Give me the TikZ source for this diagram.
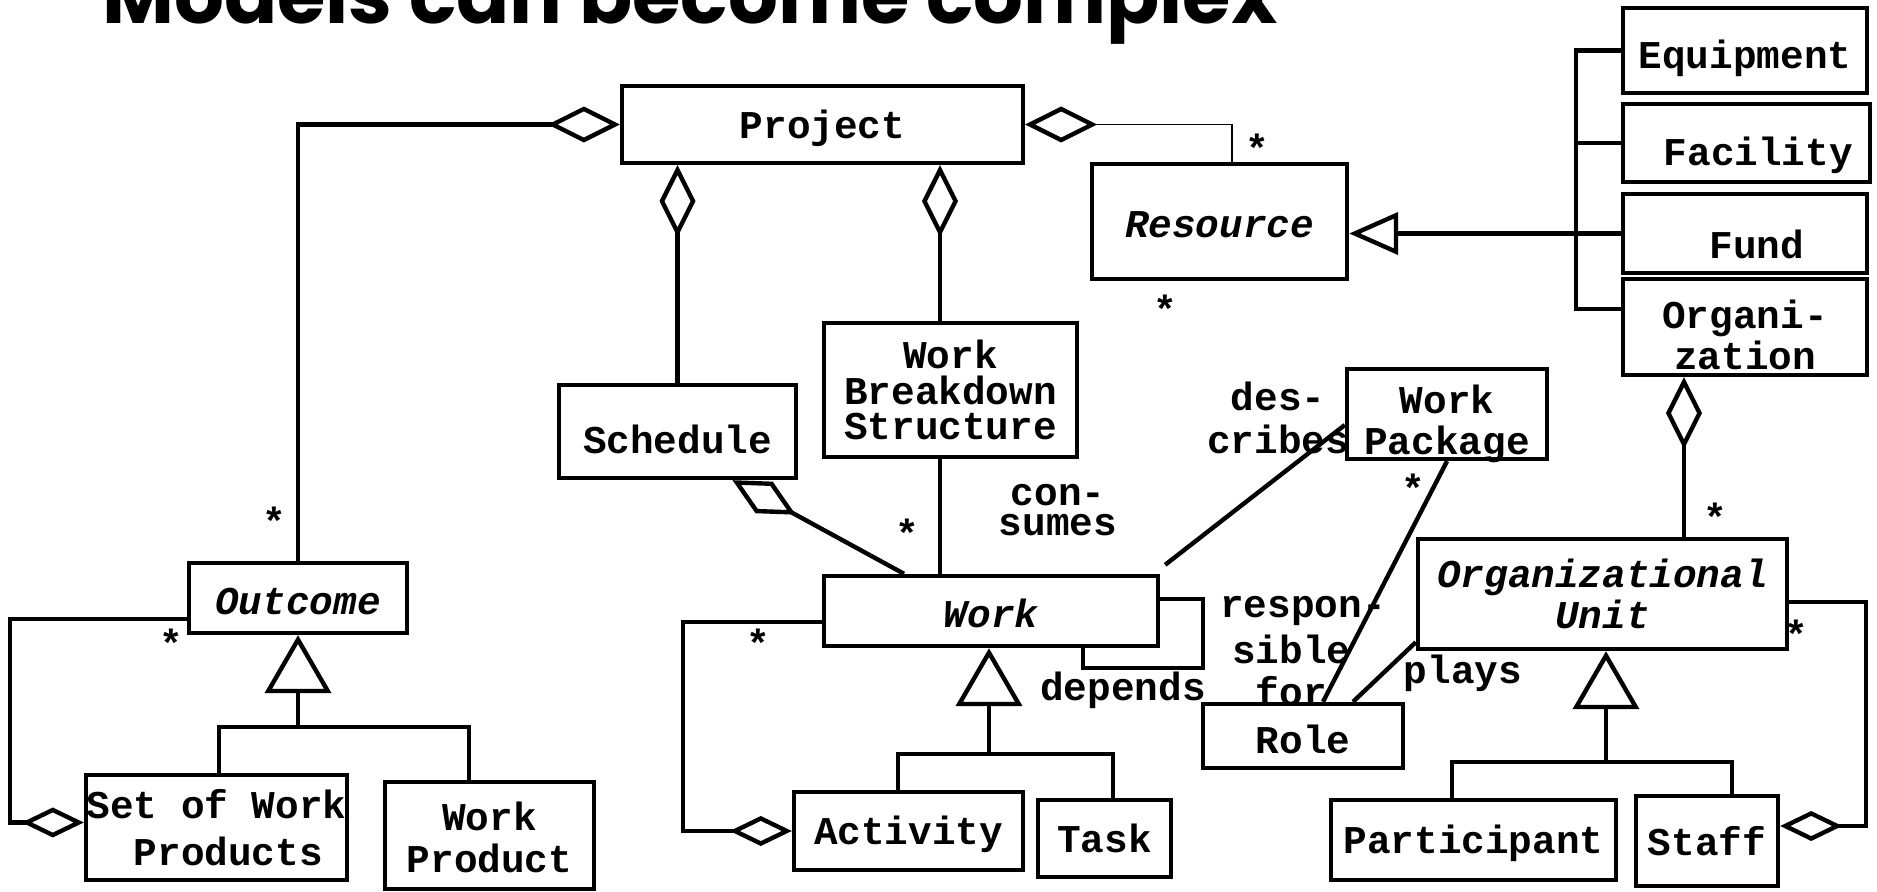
\documentclass[tikz,border=0pt]{standalone}
\usepackage{fontspec}
\usepackage{graphicx}
\setmonofont{Liberation Mono}
\newfontfamily\titlefont{Poppins}
\usetikzlibrary{arrows.meta}
\newcommand\umlfont{\ttfamily\bfseries\fontsize{11.2pt}{10.2pt}\selectfont}
\newcommand\dn[2]{\raisebox{-#1}[\height][\depth]{#2}}
\tikzset{
  cls/.style={draw, line width=1.25pt, font=\umlfont, align=center, inner sep=0pt},
  abscls/.style={cls, font=\umlfont\itshape},
  lbl/.style={font=\umlfont, align=center, inner sep=0pt},
  mult/.style={font=\umlfont, inner sep=0pt},
  agg/.style={-{Diamond[open,length=7.2mm,width=3.6mm]}},
  aggs/.style={-{Diamond[open,length=6.2mm,width=3mm]}},
  gen/.style={-{Triangle[open,length=5.8mm,width=6.6mm]}}
}
\begin{document}
\begin{tikzpicture}[x=0.1mm,y=-0.1mm,line width=1.25pt]
\useasboundingbox (0,0) rectangle (1877,892);
\clip (0,0) rectangle (1877,892);
\node[anchor=base west,inner sep=0pt] (title) at (100,24) {\resizebox{117.5mm}{!}{\titlefont\bfseries Models can become complex}};

\node[cls,minimum width=40.1mm,minimum height=7.7mm] (project) at (822.5,124.5) {\dn{0.35mm}{Project}};
\node[abscls,minimum width=25.5mm,minimum height=11.5mm] (resource) at (1219.5,221.5) {\dn{0.35mm}{Resource}};
\node[cls,minimum width=24.4mm,minimum height=8.5mm] (equip) at (1745,50.5) {\dn{0.8mm}{Equipment}};
\node[cls,minimum width=24.7mm,minimum height=7.8mm] (facility) at (1746.5,143) {\dn{1.2mm}{\ Facility}};
\node[cls,minimum width=24.4mm,minimum height=7.9mm] (fund) at (1745,233.5) {\dn{1.1mm}{\ Fund}};
\node[cls,minimum width=24.4mm,minimum height=9.6mm] (organization) at (1745,327) {\dn{0.8mm}{Organi-}\\\dn{0.8mm}{zation}};
\node[cls,minimum width=20mm,minimum height=9mm] (wp) at (1447,414) {\dn{1mm}{Work}\\[1.4pt]\dn{1mm}{Package}};
\node[abscls,minimum width=36.9mm,minimum height=11mm] (orgunit) at (1602.5,594) {Organizational\\Unit};
\node[cls,minimum width=28.5mm,minimum height=8mm] (participant) at (1473.5,840) {\dn{0.35mm}{Participant}};
\node[cls,minimum width=14.2mm,minimum height=9mm] (staff) at (1707,841) {Staff};
\node[cls,minimum width=20mm,minimum height=6.4mm] (role) at (1303,736) {\dn{0.35mm}{Role}};
\node[abscls,minimum width=33.4mm,minimum height=7mm] (work) at (991,611) {\dn{0.25mm}{Work}};
\node[cls,minimum width=25.3mm,minimum height=13.4mm] (wbs) at (950.5,390) {Work\\Breakdown\\Structure};
\node[cls,minimum width=23.7mm,minimum height=9.3mm] (schedule) at (677.5,431.5) {\dn{0.8mm}{Schedule}};
\node[cls,minimum width=22.9mm,minimum height=7.8mm] (activity) at (908.5,831) {\dn{0.35mm}{Activity}};
\node[cls,minimum width=13.3mm,minimum height=7.7mm] (task) at (1104.5,838.5) {Task};
\node[abscls,minimum width=21.8mm,minimum height=7mm] (outcome) at (298,598) {\dn{0.35mm}{Outcome}};
\node[cls,minimum width=26.1mm,minimum height=10.5mm] (setwp) at (216.5,827.5) {Set of Work\\[3.1pt]\ Products};
\node[cls,minimum width=20.9mm,minimum height=10.7mm] (workprod) at (489.5,835.5) {\dn{0.2mm}{Work}\\[1.7pt]\dn{0.2mm}{Product}};

\draw[agg] (outcome.north) |- (project.west);
\draw[line width=0.4pt,{Diamond[open,length=7.2mm,width=3.6mm,line width=1.25pt]}-] (project.east) -| ([xshift=1.25mm]resource.north);
\draw[agg] (schedule.north) -- (schedule.north |- project.south);
\draw[agg] ([xshift=-1.05mm]wbs.north) -- ([xshift=-1.05mm]wbs.north |- project.south);
\draw ([xshift=-1.05mm]wbs.south) -- ([xshift=-1.05mm]wbs.south |- work.north);
\draw[agg] ([xshift=-8.7mm]work.north) -- ([xshift=5.5mm]schedule.south);

\coordinate (dep) at (1203,668);
\draw ([yshift=1.2mm]work.east) -| (dep) -| ([xshift=9.2mm]work.south);
\draw[aggs] ([yshift=-1.1mm]work.west) -| ([xshift=-10.9mm]activity.west) -- (activity.west);
\draw[aggs] ([yshift=-2.1mm]outcome.west) -| ([xshift=-7.4mm,yshift=0.5mm]setwp.west) -- ([yshift=0.5mm]setwp.west);

\coordinate (obus) at (298,727);
\draw[gen] (obus) -- (outcome.south);
\draw ([xshift=0.25mm]setwp.north) |- (obus) -| ([xshift=-2.05mm]workprod.north);
\coordinate (wbus) at (989,754);
\draw[gen] (wbus) -- (wbus |- work.south);
\draw ([xshift=-1.05mm]activity.north) |- (wbus) -| ([xshift=0.85mm]task.north);
\coordinate (ubus) at (1606,762);
\draw[gen] (ubus) -- (ubus |- orgunit.south);
\draw ([xshift=-2.15mm]participant.north) |- (ubus) -| ([xshift=2.5mm]staff.north);

\path (fund.west) ++(-4.5mm,0) coordinate (rbus);
\draw (equip.west) -| (rbus) |- ([yshift=1.8mm]organization.west);
\draw (facility.west) -- (facility.west -| rbus);
\draw (fund.west) -- (rbus);
\draw[-{Triangle[open,length=4.9mm,width=4.2mm]}] (rbus) -- (rbus -| resource.east);

\draw[agg] ([xshift=-6.1mm]organization.south |- orgunit.north) -- ([xshift=-6.1mm]organization.south);
\draw[aggs] ([yshift=-0.8mm]orgunit.east) -| ([xshift=8.6mm,yshift=1.5mm]staff.east) -- ([yshift=1.5mm]staff.east);

\draw ([shift={(0.5mm,0.9mm)}]work.north east) -- ([yshift=-1.1mm]wp.west);
\draw (wp.south) -- ([xshift=2mm]role.north);
\draw ([xshift=5mm]role.north) -- ([yshift=0.9mm]orgunit.south west);

\node[lbl] (consumes) at (1058,510) {con-\\[-1.5pt]sumes};
\node[lbl] (describes) at (1278,418) {des-\\[1.8pt]cribes};
\node[lbl] (responsible) at (1303,651) {respon-\\[1.8pt]sible\phantom{\ }\\[1.8pt]for\phantom{\ }};
\node[lbl] (plays) at (1463,673) {plays};
\node[lbl] (depends) at (1123,690) {depends};

\node[mult] (m1) at (274,521) {*};
\node[mult] (m2) at (1257,148) {*};
\node[mult] (m3) at (1165,309) {*};
\node[mult] (m4) at (907,533) {*};
\node[mult] (m5) at (171,643) {*};
\node[mult] (m6) at (758,643) {*};
\node[mult] (m7) at (1413,488) {*};
\node[mult] (m8) at (1715,517) {*};
\node[mult] (m9) at (1796,634) {*};
\end{tikzpicture}
\end{document}
